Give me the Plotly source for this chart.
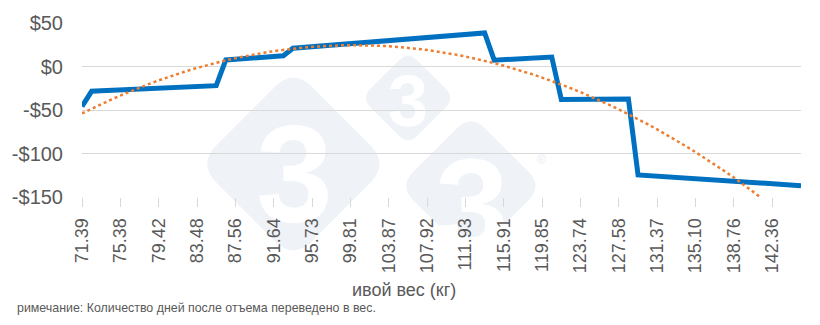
import numpy as np
import plotly.graph_objects as go

# ---- data ----
day_index = list(range(76))
profit = [
    -46.0,
    -28.5, -28.0, -27.5, -27.0, -26.5, -26.0, -25.5, -25.0, -24.5, -24.0, -23.5, -23.0, -22.5, -22.0,
    7.5, 8.3, 9.1, 9.9, 10.7, 11.5, 12.3,
    21.0, 21.9, 22.8, 23.6, 24.5, 25.4, 26.3, 27.1, 28.0, 28.9, 29.8, 30.6, 31.5, 32.4, 33.3, 34.1,
    35.0, 35.9, 36.8, 37.6, 38.5,
    7.3, 7.9, 8.5, 9.1, 9.7, 10.3, 10.9,
    -38.0, -37.9, -37.8, -37.7, -37.6, -37.5, -37.4, -37.3,
    -124.6, -125.3, -126.1, -126.8, -127.5, -128.2, -129.0, -129.7, -130.4, -131.2, -131.9,
    -132.6, -133.3, -134.1, -134.8, -135.5, -136.3, -137.0,
]
weight_labels = ["71.39", "75.38", "79.42", "83.48", "87.56", "91.64", "95.73", "99.81",
                 "103.87", "107.92", "111.93", "115.91", "119.85", "123.74", "127.58",
                 "131.37", "135.10", "138.76", "142.36"]
label_step = 4
y_tickvals = [-150, -100, -50, 0, 50]
y_ticktext = ["-$150", "-$100", "-$50", "$0", "$50"]
x_title = "ивой вес (кг)"
footnote = "римечание: Количество дней после отъема переведено в вес."

# polynomial (2nd order) trendline, as in the original spreadsheet chart
coef = np.polyfit(day_index, profit, 2)
trend = np.polyval(coef, day_index)

FONT = "Liberation Sans, Arial, sans-serif"
W, H = 820, 325
ML, MR, MT, MB = 80, 19, 23, 128
PW, PH = W - ML - MR, H - MT - MB


def to_paper(px, py):
    return (px - ML) / PW, (H - MB - py) / PH


def diamond_path(cx, cy, h, rf=0.2):
    pts = [(cx, cy - h), (cx + h, cy), (cx, cy + h), (cx - h, cy)]
    segs = []
    n = len(pts)
    for k in range(n):
        p = pts[k]
        prv = pts[k - 1]
        nxt = pts[(k + 1) % n]
        a = (p[0] + (prv[0] - p[0]) * rf, p[1] + (prv[1] - p[1]) * rf)
        b = (p[0] + (nxt[0] - p[0]) * rf, p[1] + (nxt[1] - p[1]) * rf)
        a, pp, b = to_paper(*a), to_paper(*p), to_paper(*b)
        segs.append(("M" if k == 0 else "L") + f"{a[0]:.5f},{a[1]:.5f}")
        segs.append(f"Q{pp[0]:.5f},{pp[1]:.5f} {b[0]:.5f},{b[1]:.5f}")
    return " ".join(segs) + " Z"


wm_fill = "rgb(239,243,248)"
shapes = []
# watermark: (diamond centre x, y, half-diagonal, digit centre x, y, digit size)
for (cx, cy, h, tx, ty, fs) in [(292, 164, 96, 293, 160, 138),
                                (407, 98, 47, 407, 94, 72),
                                (470, 186, 72, 471, 192, 132)]:
    shapes.append(dict(
        type="path", xref="paper", yref="paper", layer="below",
        path=diamond_path(cx, cy, h), fillcolor=wm_fill, line=dict(width=0),
    ))
    x0, y0 = to_paper(tx - 5, ty + 5)
    x1, y1 = to_paper(tx + 5, ty - 5)
    shapes.append(dict(
        type="rect", xref="paper", yref="paper", layer="below",
        x0=x0, x1=x1, y0=y0, y1=y1, fillcolor="rgba(0,0,0,0)", line=dict(width=0),
        label=dict(text="<b>3</b>", font=dict(color="white", size=fs, family=FONT),
                   textposition="middle center"),
    ))

fig = go.Figure()
fig.add_trace(go.Scatter(
    x=day_index, y=profit, mode="lines",
    line=dict(color="rgb(0,112,192)", width=5), showlegend=False,
))
fig.add_trace(go.Scatter(
    x=day_index, y=trend, mode="lines",
    line=dict(color="rgb(237,125,49)", width=2.5, dash="dot"), showlegend=False,
))

fig.update_layout(
    width=W, height=H,
    margin=dict(l=ML, r=MR, t=MT, b=MB),
    paper_bgcolor="white", plot_bgcolor="rgba(0,0,0,0)",
    font=dict(family=FONT, color="#595959"),
    shapes=shapes,
    annotations=[
        dict(text=x_title, xref="paper", yref="paper",
             x=(403 - ML) / PW, y=(H - MB - 290) / PH,
             xanchor="center", yanchor="middle", showarrow=False,
             font=dict(size=18, color="#595959", family=FONT)),
        dict(text=footnote, xref="paper", yref="paper",
             x=(13 - ML) / PW, y=(H - MB - 308) / PH,
             xanchor="left", yanchor="middle", showarrow=False,
             font=dict(size=12.4, color="#595959", family=FONT)),
        dict(text="®", xref="paper", yref="paper",
             x=(541 - ML) / PW, y=(H - MB - 160) / PH,
             xanchor="center", yanchor="middle", showarrow=False,
             font=dict(size=12, color="rgb(232,237,243)", family=FONT)),
    ],
)
fig.update_xaxes(
    range=[day_index[0], day_index[-1]],
    tickmode="array", tickvals=day_index[::label_step][:len(weight_labels)],
    ticktext=weight_labels, tickangle=-90,
    ticks="outside", ticklen=9, tickcolor="#d9d9d9", tickwidth=1,
    ticklabelstandoff=4,
    tickfont=dict(size=18, color="#595959", family=FONT),
    showgrid=False, zeroline=False, showline=False,
)
fig.update_yaxes(
    range=[-150, 50],
    tickmode="array", tickvals=y_tickvals, ticktext=y_ticktext,
    ticks="", ticklabelstandoff=18,
    tickfont=dict(size=20, color="#595959", family=FONT),
    showgrid=True, gridcolor="#d9d9d9", gridwidth=1,
    zeroline=False, showline=False,
)
fig.write_html("out.html")
